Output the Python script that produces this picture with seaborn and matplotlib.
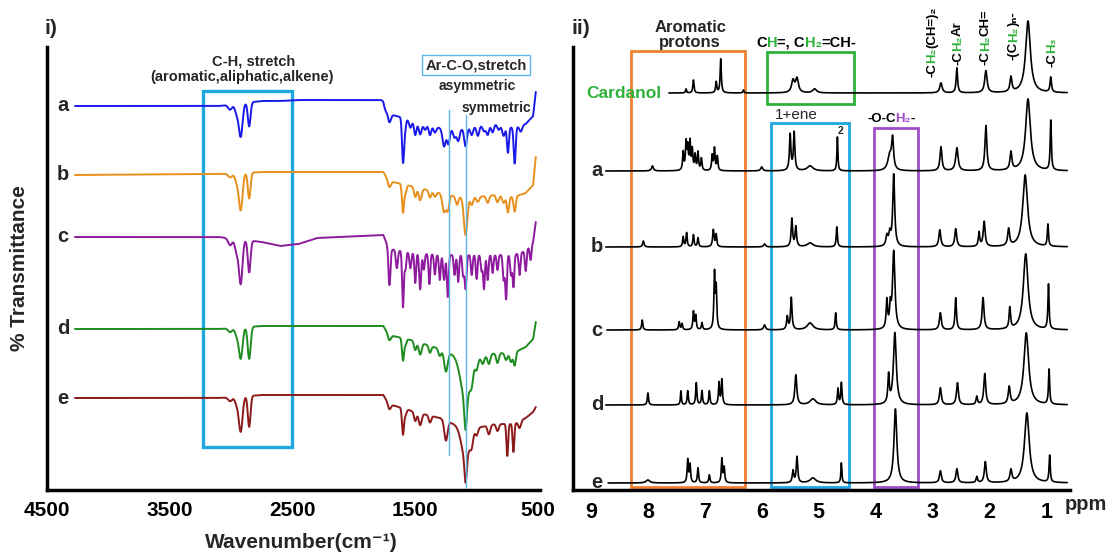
import matplotlib
matplotlib.use("Agg")
import numpy as np
import pandas as pd
import matplotlib.pyplot as plt
import seaborn as sns
from matplotlib.patches import Rectangle

W, H = 1113, 553

# ---------------- FTIR (panel i) ----------------
ftir_labels = ["a", "b", "c", "d", "e"]
ftir_colors = ["#1a1ae8", "#e8901e", "#8e1a9e", "#1e8c1e", "#8c1a1a"]
ftir_levels = [384, 315, 253, 161, 92]          # baseline of each trace
ftir_ticks = [4500, 3500, 2500, 1500, 500]

# baseline drift knots (wavenumber, offset downwards)
knot_wn = [4272, 3100, 2750, 2600, 2450, 2300, 1760, 1715, 1500, 1300, 1150, 1000, 850, 700, 600, 540, 518]
knots_a = [0, 0, -5, -5, -6, -6, -6, 8, 15, 22, 24, 20, 18, 22, 18, 10, -14]
knots_b = [0, -1, -3, -3, -3, -3, -3, 6, 12, 18, 22, 22, 20, 22, 18, 10, -18]
knots_c = [0, 0, 5, 9, 7, 1, -2, 12, 16, 18, 18, 18, 18, 18, 14, 5, -15]
knots_d = [0, 0, -3, -3, -3, -3, -3, 6, 12, 20, 28, 30, 24, 24, 18, 10, -7]
knots_e = [0, 0, -3, -3, -3, -3, -3, 6, 14, 20, 28, 30, 26, 26, 20, 14, 9]

# absorption bands (wavenumber, depth, width)
peaks_a = [(3008, 5, 16), (2955, 9, 14), (2922, 33, 15), (2853, 24, 11), (1745, 5, 12), (1710, 8, 12),
           (1600, 42, 8), (1585, 12, 9), (1540, 8, 11), (1500, 14, 10), (1460, 12, 12), (1420, 6, 11),
           (1380, 10, 10), (1340, 6, 11), (1265, 18, 13), (1230, 15, 11), (1180, 8, 11), (1150, 11, 11),
           (1090, 18, 11), (1040, 8, 11), (990, 10, 11), (940, 6, 11), (910, 10, 11), (870, 8, 11),
           (820, 5, 11), (780, 10, 11), (745, 26, 8), (690, 36, 8), (640, 6, 11)]
peaks_b = [(3008, 4, 16), (2955, 8, 14), (2922, 37, 15), (2853, 26, 11), (1710, 6, 12), (1600, 28, 8),
           (1580, 8, 9), (1500, 10, 10), (1460, 12, 12), (1380, 7, 10), (1340, 5, 11), (1265, 18, 14),
           (1235, 15, 11), (1160, 8, 11), (1090, 38, 14), (1040, 8, 11), (990, 5, 11), (910, 7, 11),
           (830, 7, 11), (780, 7, 11), (745, 16, 9), (690, 15, 9)]
peaks_c = [(3008, 7, 16), (2955, 13, 14), (2922, 44, 14), (2853, 32, 11), (1710, 36, 8), (1650, 18, 8),
           (1600, 56, 7), (1580, 18, 7), (1540, 16, 8), (1500, 30, 7), (1460, 36, 8), (1430, 16, 7),
           (1385, 30, 7), (1340, 20, 7), (1300, 25, 7), (1265, 25, 8), (1235, 42, 7), (1180, 20, 7),
           (1150, 27, 7), (1110, 20, 7), (1090, 34, 8), (1040, 20, 7), (1000, 24, 7), (960, 16, 7),
           (940, 34, 7), (910, 25, 7), (870, 18, 7), (830, 15, 7), (780, 25, 7), (760, 44, 7),
           (720, 20, 7), (700, 32, 7), (650, 22, 7), (600, 20, 7), (560, 15, 7)]
peaks_d = [(3008, 4, 16), (2955, 7, 14), (2922, 31, 15), (2853, 32, 12), (1710, 5, 12), (1600, 22, 8),
           (1580, 6, 9), (1500, 9, 10), (1460, 12, 12), (1380, 7, 10), (1300, 7, 11), (1250, 20, 14),
           (1090, 42, 38), (1090, 30, 10), (1040, 12, 12), (1000, 9, 11), (950, 7, 11), (900, 9, 11),
           (830, 10, 11), (760, 7, 11), (720, 9, 11), (690, 13, 9)]
peaks_e = [(3008, 4, 16), (2955, 7, 14), (2922, 35, 15), (2853, 31, 11), (1710, 5, 12), (1600, 26, 8),
           (1580, 6, 9), (1500, 9, 10), (1460, 12, 12), (1380, 7, 10), (1250, 20, 13), (1090, 32, 32),
           (1090, 24, 9), (1040, 12, 12), (1000, 7, 11), (900, 9, 11), (830, 7, 11), (750, 32, 7),
           (700, 28, 7), (650, 7, 11)]

ftir_knots = [knots_a, knots_b, knots_c, knots_d, knots_e]
ftir_peaks = [peaks_a, peaks_b, peaks_c, peaks_d, peaks_e]

# ---------------- 1H NMR (panel ii) ----------------
nmr_labels = ["Cardanol", "a", "b", "c", "d", "e"]
nmr_levels = [397, 319, 243, 160, 85, 7]
nmr_start = [7.63, 8.74, 8.74, 8.72, 8.74, 8.70]
nmr_ticks = [9, 8, 7, 6, 5, 4, 3, 2, 1]

# (ppm, height, half width)
nmr_card = [(7.33, 4, .01), (7.20, 13, .012), (6.80, 11, .012), (6.72, 34, .012), (6.32, 3, .01),
            (5.45, 12, .03), (5.38, 14, .03), (5.07, 4, .04), (2.85, 10, .025), (2.57, 25, .015),
            (2.06, 22, .025), (1.62, 15, .02), (1.32, 72, .05), (0.92, 15, .015)]
nmr_a = [(7.92, 5, .02), (7.38, 18, .012), (7.33, 27, .012), (7.30, 22, .012), (7.26, 28, .012),
         (7.22, 20, .012), (7.17, 15, .012), (7.12, 18, .012), (7.06, 12, .012), (6.87, 15, .012),
         (6.83, 22, .012), (6.78, 14, .012), (6.00, 4, .02), (5.50, 36, .015), (5.43, 38, .015),
         (5.15, 5, .06), (4.67, 34, .01), (3.75, 15, .04), (3.70, 30, .02), (2.85, 24, .02),
         (2.57, 23, .025), (2.06, 45, .02), (1.62, 18, .02), (1.32, 72, .05), (0.92, 50, .012)]
nmr_b = [(8.08, 6, .015), (7.38, 10, .012), (7.32, 14, .012), (7.20, 12, .012), (7.12, 9, .012),
         (6.85, 17, .015), (6.80, 12, .012), (5.95, 3, .02), (5.47, 28, .015), (5.40, 20, .015),
         (5.15, 4, .06), (4.68, 20, .012), (3.80, 10, .02), (3.75, 12, .02), (3.68, 72, .02),
         (2.87, 17, .02), (2.59, 18, .02), (2.18, 14, .015), (2.09, 25, .02), (1.66, 17, .02),
         (1.37, 72, .05), (0.97, 22, .012)]
nmr_c = [(8.10, 10, .012), (7.45, 8, .012), (7.40, 6, .012), (7.20, 18, .012), (7.16, 14, .012),
         (7.05, 7, .012), (6.83, 55, .012), (6.80, 40, .012), (5.95, 5, .02), (5.55, 13, .015),
         (5.48, 32, .015), (5.15, 7, .06), (4.70, 17, .012), (3.80, 28, .015), (3.74, 20, .015),
         (3.68, 78, .025), (2.86, 17, .02), (2.59, 32, .015), (2.11, 32, .02), (1.64, 21, .015),
         (1.36, 76, .05), (0.96, 45, .012)]
nmr_d = [(8.00, 12, .012), (7.42, 14, .01), (7.30, 14, .012), (7.15, 22, .012), (7.05, 14, .012),
         (6.92, 14, .012), (6.75, 22, .012), (6.70, 25, .012), (5.40, 30, .02), (5.10, 6, .06),
         (4.66, 16, .012), (4.60, 22, .012), (3.77, 28, .015), (3.66, 72, .03), (2.86, 17, .02),
         (2.56, 22, .02), (2.22, 8, .015), (2.08, 31, .02), (1.65, 17, .02), (1.35, 72, .05),
         (0.95, 35, .012)]
nmr_e = [(8.00, 3, .04), (7.30, 23, .012), (7.26, 18, .012), (7.12, 15, .012), (6.92, 8, .012),
         (6.70, 24, .012), (6.66, 15, .012), (5.45, 12, .015), (5.38, 26, .015), (5.10, 5, .06),
         (4.60, 20, .01), (3.65, 74, .03), (2.86, 12, .02), (2.57, 14, .02), (2.22, 6, .015),
         (2.07, 21, .02), (1.62, 12, .02), (1.34, 70, .05), (0.94, 27, .012)]
nmr_peaks = [nmr_card, nmr_a, nmr_b, nmr_c, nmr_d, nmr_e]

GREEN = "#2fb23a"
PURPLE = "#a04cc8"
BLUE = "#1ea7e1"
ORANGE = "#f08030"

sns.set_theme(style="white")
plt.rcParams["font.family"] = ["Liberation Sans", "DejaVu Sans"]
plt.rcParams["font.weight"] = "bold"

fig = plt.figure(figsize=(W / 100, H / 100), dpi=100)
fx = lambda x: x / W
fy = lambda y: 1 - y / H


def style_axes(ax):
    for s in ["top", "right"]:
        ax.spines[s].set_visible(False)
    for s in ["left", "bottom"]:
        ax.spines[s].set_linewidth(2.5)
        ax.spines[s].set_color("black")
    ax.set_ylim(0, 443)
    ax.set_facecolor("none")


# ----- panel i -----
ax1 = fig.add_axes([fx(47), fy(490), 493 / W, 443 / H])
style_axes(ax1)
ax1.set_xlim(4500, 4500 - 493 / 0.12275)
wn = np.linspace(4272, 518, 4000)
for lab, col, lev, kn, pk in zip(ftir_labels, ftir_colors, ftir_levels, ftir_knots, ftir_peaks):
    off = np.interp(wn[::-1], knot_wn[::-1], kn[::-1])[::-1]
    dip = sum(d * np.exp(-0.5 * ((wn - c) / s) ** 2) for c, d, s in pk)
    df = pd.DataFrame({"wn": wn, "T": lev - off - dip})
    sns.lineplot(data=df, x="wn", y="T", ax=ax1, color=col, lw=1.4,
                 estimator=None, sort=False, legend=False)
    fig.text(fx(63), fy(490 - lev), lab, fontsize=14.5, fontweight="bold", ha="center", va="center")

ax1.set_xticks(ftir_ticks)
ax1.set_xticklabels([str(t) for t in ftir_ticks], fontsize=15, fontweight="bold")
ax1.tick_params(axis="x", direction="in", length=7, width=2, pad=8, colors="black")
ax1.set_yticks(ftir_levels)
ax1.set_yticklabels([])
ax1.tick_params(axis="y", direction="in", length=4, width=1.2)
ax1.set_xlabel("")
ax1.set_ylabel("")

ax1.add_patch(Rectangle((3233, 43), 2504 - 3233, 356, fill=False, ec=BLUE, lw=2.4, clip_on=False))
ax1.plot([1225, 1225], [35, 380], color="#5ab8e6", lw=1.0)
ax1.plot([1086, 1086], [3, 375], color="#5ab8e6", lw=1.0)

fig.text(fx(51), fy(29), "i)", fontsize=15, fontweight="bold", ha="center", va="center")
fig.text(fx(20), fy(268), "% Transmittance", fontsize=15, fontweight="bold",
         rotation=90, ha="center", va="center")
fig.text(fx(301), fy(542), "Wavenumber(cm\u207b\u00b9)", fontsize=15, fontweight="bold",
         ha="center", va="center")
fig.text(fx(254), fy(61), "C-H, stretch", fontsize=10.5, fontweight="bold", ha="center", va="center")
fig.text(fx(242), fy(77), "(aromatic,aliphatic,alkene)", fontsize=10.5, fontweight="bold",
         ha="center", va="center")
fig.text(fx(476), fy(65), "Ar-C-O,stretch", fontsize=10.5, fontweight="bold", ha="center", va="center",
         bbox=dict(boxstyle="square,pad=0.2", fc="white", ec="#5ab8e6", lw=1.0))
fig.text(fx(477), fy(86), "asymmetric", fontsize=10, fontweight="bold", ha="center", va="center")
fig.text(fx(496), fy(108), "symmetric", fontsize=10, fontweight="bold", ha="center", va="center")

# ----- panel ii -----
ax2 = fig.add_axes([fx(573), fy(490), 497 / W, 443 / H])
style_axes(ax2)
ax2.set_xlim(9 + 18 / 56.9, 9 - 479 / 56.9)
for lab, lev, st, pk in zip(nmr_labels, nmr_levels, nmr_start, nmr_peaks):
    ppm = np.linspace(st, 0.63, 6000)
    sig = sum(h / (1 + ((ppm - c) / w) ** 2) for c, h, w in pk)
    df = pd.DataFrame({"ppm": ppm, "I": lev + sig})
    sns.lineplot(data=df, x="ppm", y="I", ax=ax2, color="black", lw=1.2,
                 estimator=None, sort=False, legend=False)
    if lab == "Cardanol":
        fig.text(fx(624), fy(490 - lev), lab, fontsize=12.5, fontweight="bold", color=GREEN,
                 ha="center", va="center")
    else:
        fig.text(fx(597), fy(490 - lev), lab, fontsize=14.5, fontweight="bold", ha="center", va="center")
for ln in ax2.lines:
    ln.set_clip_on(False)

ax2.set_xticks(nmr_ticks)
ax2.set_xticklabels([str(t) for t in nmr_ticks], fontsize=15.5, fontweight="bold")
ax2.tick_params(axis="x", direction="out", length=3, width=2, pad=6, colors="black")
ax2.set_yticks(nmr_levels)
ax2.set_yticklabels([])
ax2.tick_params(axis="y", direction="in", length=4, width=1.2)
ax2.set_xlabel("")
ax2.set_ylabel("")

ax2.add_patch(Rectangle((8.30, 3), 6.30 - 8.30, 436, fill=False, ec=ORANGE, lw=2.0, clip_on=False))
ax2.add_patch(Rectangle((5.90, 386), 4.38 - 5.90, 52, fill=False, ec=GREEN, lw=2.0, clip_on=False))
ax2.add_patch(Rectangle((5.83, 3), 4.46 - 5.83, 364, fill=False, ec=BLUE, lw=2.0, clip_on=False))
ax2.add_patch(Rectangle((4.03, 3), 3.25 - 4.03, 359, fill=False, ec=PURPLE, lw=2.0, clip_on=False))

fig.text(fx(581), fy(29), "ii)", fontsize=15, fontweight="bold", ha="center", va="center")
fig.text(fx(1086), fy(505), "ppm", fontsize=14.5, fontweight="bold", ha="center", va="center")
fig.text(fx(691), fy(27), "Aromatic", fontsize=12, fontweight="bold", ha="center", va="center")
fig.text(fx(690), fy(42), "protons", fontsize=12, fontweight="bold", ha="center", va="center")
fig.text(fx(796), fy(115), "1+ene", fontsize=11, fontweight="normal", ha="center", va="center")
fig.text(fx(841), fy(131), "2", fontsize=7.5, fontweight="bold", ha="center", va="center")

renderer = fig.canvas.get_renderer()


def color_run(x, y, parts, size, rot=False):
    pos = y if rot else x
    for s, c in parts:
        if rot:
            t = fig.text(fx(x), fy(pos), s, color=c, fontsize=size, fontweight="bold", rotation=90,
                         rotation_mode="anchor", ha="left", va="baseline")
            pos -= t.get_window_extent(renderer).height
        else:
            t = fig.text(fx(pos), fy(y), s, color=c, fontsize=size, fontweight="bold",
                         ha="left", va="baseline")
            pos += t.get_window_extent(renderer).width


K = "black"
color_run(756, 47, [("C", K), ("H", GREEN), ("=, C", K), ("H\u2082", GREEN), ("=CH-", K)], 10.5)
color_run(867, 122, [("-O-C", K), ("H\u2082", PURPLE), ("-", K)], 9.5)
color_run(935, 77, [("-C", K), ("H\u2082", GREEN), ("(CH=)\u2082", K)], 9.5, rot=True)
color_run(961, 65, [("-C", K), ("H\u2082", GREEN), ("Ar", K)], 9.5, rot=True)
color_run(989, 65, [("-C", K), ("H\u2082", GREEN), ("CH=", K)], 9.5, rot=True)
color_run(1017, 60, [("-(C", K), ("H\u2082", GREEN), (")\u2099-", K)], 9.5, rot=True)
color_run(1055, 67, [("-C", K), ("H\u2083", GREEN)], 9.5, rot=True)

fig.savefig("out.png", dpi=100)
